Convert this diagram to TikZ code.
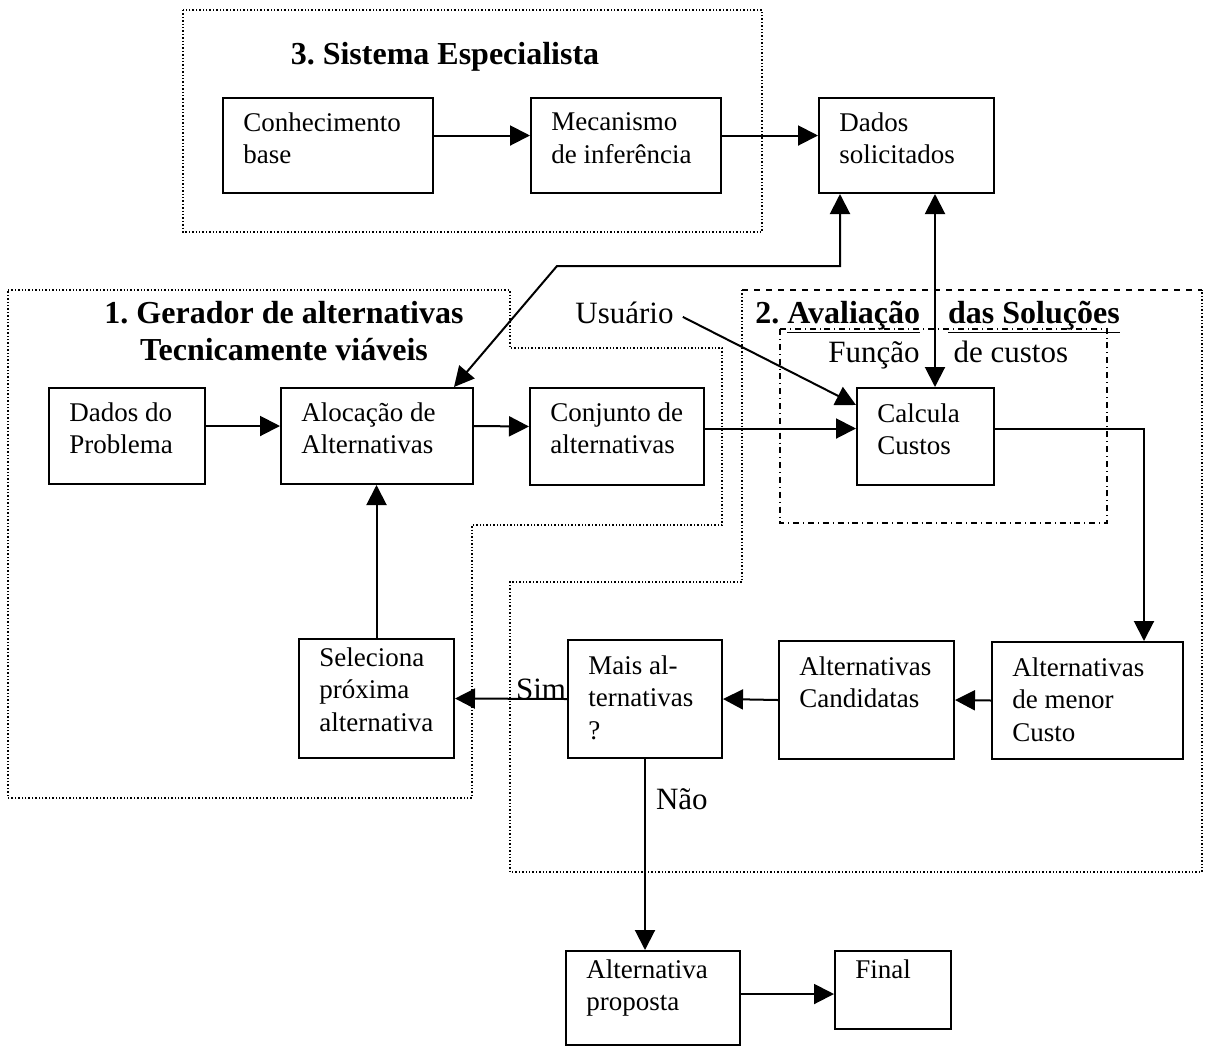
\documentclass[tikz,border=0pt]{standalone}
\usepackage{fontspec}
\setmainfont{Liberation Serif}
\usepackage{tikz}
\usetikzlibrary{arrows.meta}

\frenchspacing
\newcommand{\corpo}{\fontsize{13.5}{16.4}\selectfont}
\newcommand{\legenda}{\fontsize{15.5}{18}\selectfont}
\newcommand{\titulo}{\fontsize{16}{18.5}\selectfont\bfseries}
% caixa com texto alinhado em cima a esquerda: [desl. texto]{nome}{x,y}{larg}{alt}{texto}
\newcommand{\bloco}[6][15]{%
  \node[caixa, minimum width=#4*0.5pt, minimum height=#5*0.5pt] (#2) at (#3) {};
  \node[texto] (#2-t) at ([shift={(21,#1)}]#2.north west) {#6};
}

\tikzset{
  caixa/.style={draw, line width=1pt, anchor=north west, inner sep=0pt},
  texto/.style={anchor=north west, align=left, inner sep=0pt, font=\corpo},
  txt/.style={inner sep=0pt, font=\legenda},
  tit/.style={inner sep=0pt, font=\titulo},
  seta/.style={-{Triangle[length=10pt,width=10pt]}, line width=1pt},
  seta2/.style={{Triangle[length=10pt,width=10pt]}-{Triangle[length=10pt,width=10pt]}, line width=1pt},
  moldura/.style={densely dotted, line width=0.7pt},
}

\begin{document}
\begin{tikzpicture}[x=0.5pt,y=-0.5pt]
  \useasboundingbox (0,0) rectangle (1206,1046);
  % 3. Sistema especialista
  \draw[moldura] (183,10) rectangle (762,232);
  \node[tit, anchor=base] (tit3) at (445,64) {3. Sistema Especialista};
  \bloco{conh}{222,97}{210}{95}{Conhecimento\\base}
  \bloco{meca}{530,97}{190}{95}{Mecanismo\\de inferência}
  \bloco{dsol}{818,97}{175}{95}{Dados\\solicitados}
  \draw[seta] ([yshift=5pt]conh.east) -- ([yshift=5pt]meca.west);
  \draw[seta] ([yshift=5pt]meca.east) -- ([yshift=5pt]dsol.west);

  % 1. Gerador de alternativas
  \draw[moldura] (8,290) -- (510,290) -- (510,348) -- (722,348) -- (722,525)
    -- (472,525) -- (472,798) -- (8,798) -- cycle;
  \node[tit, align=center, anchor=north] (tit1) at (284,301)
    {1. Gerador de alternativas\\Tecnicamente viáveis};
  \bloco{dprob}{48,387}{156}{96}{Dados do\\Problema}
  \bloco{aloc}{280,387}{192}{96}{Alocação de\\Alternativas}
  \bloco{conj}{529,387}{174}{97}{Conjunto de\\alternativas}
  \bloco[9]{selec}{298,638}{155}{119}{Seleciona\\próxima\\alternativa}
  \draw[seta] ([yshift=5pt]dprob.east) -- ([yshift=5pt]aloc.west);
  \draw[seta] ([yshift=5pt]aloc.east) -- ([yshift=5pt]conj.west);
  \draw[seta] (selec.north) -- (selec.north |- aloc.south);

  % 2. Avaliacao das solucoes
  \draw[moldura] (742,290) -- (742,582) -- (510,582) -- (510,872) -- (1202,872) -- (1202,290);
  \draw[dashed, line width=0.8pt] (742,290) -- (1202,290);
  \draw[dash dot, line width=0.8pt] (780,329) rectangle (1107,523);
  \node[tit, anchor=base west] (tit2) at (755,323)
    {2. \underline{Avaliação}\hspace{14pt}\underline{das Soluções}};
  \node[txt, anchor=base west] (func) at (828,362) {Função\hspace{17pt}de custos};
  \node[txt, anchor=base west] (usuario) at (575,323) {Usuário};
  \bloco[16]{calc}{856,387}{137}{97}{Calcula\\Custos}
  \bloco[16]{mais}{567,639}{154}{118}{Mais al-\\ternativas\\?}
  \bloco[16]{cand}{778,640}{175}{118}{Alternativas\\Candidatas}
  \bloco[16]{menor}{991,641}{191}{117}{Alternativas\\de menor\\Custo}

  % ligacoes
  \coordinate (eixo) at (935,0);
  \coordinate (q1) at (840,266);
  \coordinate (q2) at (557,266);
  \coordinate (q3) at (1144,0);
  \draw[seta2] (dsol.south -| eixo) -- (calc.north -| eixo);
  \draw[seta2] (dsol.south -| q1) -- (q1) -- (q2) -- ([xshift=38.5pt]aloc.north);
  \draw[seta, shorten <=5pt] (usuario.east) -- ([yshift=-9pt]calc.north west);
  \draw[seta] ([yshift=4pt]conj.east) -- ([yshift=4pt]calc.west);
  \draw[seta] ([yshift=4pt]calc.east) -| (menor.north -| q3);
  \draw[seta] (menor.west) -- (cand.east);
  \draw[seta] (cand.west) -- (mais.east);
  \draw[seta] (mais.west) -- (selec.east)
    node[txt, at start, anchor=base east] (sim) {Sim};

  % saida
  \bloco[9]{aprop}{565,950}{174}{94}{Alternativa\\proposta}
  \bloco[9]{final}{834,950}{116}{78}{Final}
  \draw[seta] (mais.south) -- (mais.south |- aprop.north)
    node[txt, pos=0.264, anchor=base west, xshift=5pt] (nao) {Não};
  \draw[seta] ([yshift=2pt]aprop.east) -- ([yshift=2pt]aprop.east -| final.west);
\end{tikzpicture}
\end{document}
